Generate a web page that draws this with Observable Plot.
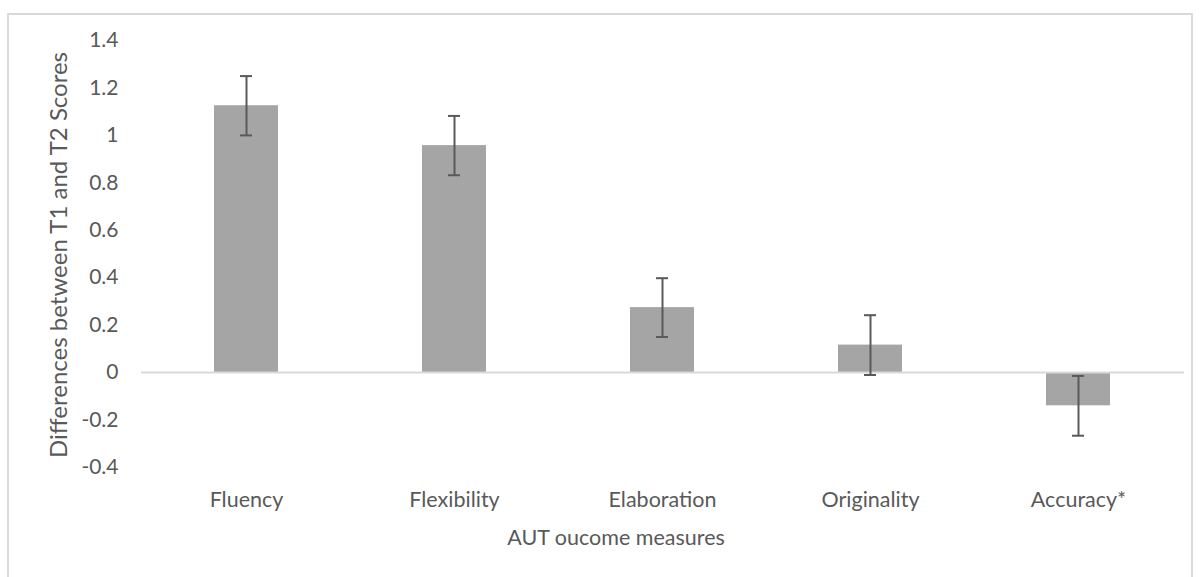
<!DOCTYPE html>
<html>
<head>
<meta charset="utf-8">
<script src="https://cdn.jsdelivr.net/npm/d3@7"></script>
<script src="https://cdn.jsdelivr.net/npm/@observablehq/plot@0.6"></script>
<style>
  html, body { margin: 0; padding: 0; background: #fff; }
  #wrap { position: relative; width: 1200px; height: 577px; overflow: hidden; }
  #border { position: absolute; left: 7px; top: 13px; width: 1186px; height: 600px; border: 2px solid #D9D9D9; box-sizing: border-box; }
  #chart { position: absolute; left: 0; top: 0; }
</style>
</head>
<body>
<div id="wrap">
  <div id="border"></div>
  <div id="chart"></div>
</div>
<script>
// Data
const categories = ["Fluency", "Flexibility", "Elaboration", "Originality", "Accuracy*"];
const means = [1.125, 0.957, 0.274, 0.116, -0.140];
const errors = [0.125, 0.125, 0.124, 0.126, 0.126];
const yTicks = [-0.4, -0.2, 0, 0.2, 0.4, 0.6, 0.8, 1, 1.2, 1.4];
const yTitle = "Differences between T1 and T2 Scores";
const xTitle = "AUT oucome measures";

const rows = categories.map((c, i) => ({
  category: c,
  mean: means[i],
  lo: means[i] - errors[i],
  hi: means[i] + errors[i]
}));

const font = "Lato, 'Open Sans', sans-serif";
const textColor = "#595959";

const chart = Plot.plot({
  width: 1200,
  height: 577,
  marginLeft: 141,
  marginRight: 16,
  marginTop: 40,
  marginBottom: 110,
  style: { fontFamily: font, fontSize: "21px", color: textColor, background: "transparent", overflow: "visible" },
  x: { domain: categories, paddingInner: 0.69, paddingOuter: 0.345, label: null },
  y: { domain: [-0.4, 1.4], label: null },
  marks: [
    Plot.axisY(yTicks, {
      tickSize: 0, tickPadding: 23, fontSize: 21, fill: textColor,
      tickFormat: d => String(+d.toFixed(1)), label: null
    }),
    Plot.axisX({ tickSize: 0, tickPadding: 24, fontSize: 21.5, fill: textColor, label: null }),
    Plot.barY(rows, { x: "category", y: "mean", fill: "#A5A5A5" }),
    Plot.ruleY([0], { stroke: "#D9D9D9", strokeWidth: 2 }),
    Plot.ruleX(rows, { x: "category", y1: "lo", y2: "hi", stroke: "#595959", strokeWidth: 2 }),
    Plot.tickY(rows, { x: "category", y: "lo", stroke: "#595959", strokeWidth: 2, insetLeft: 26, insetRight: 26 }),
    Plot.tickY(rows, { x: "category", y: "hi", stroke: "#595959", strokeWidth: 2, insetLeft: 26, insetRight: 26 }),
    Plot.text([yTitle], {
      text: d => d, frameAnchor: "left", rotate: -90, dx: -82, dy: 1,
      fontSize: 24, fill: textColor, textAnchor: "middle", lineAnchor: "middle"
    }),
    Plot.text([xTitle], {
      text: d => d, frameAnchor: "bottom", dx: -47, dy: 70.5,
      fontSize: 21.5, fill: textColor, textAnchor: "middle", lineAnchor: "middle"
    })
  ]
});

document.getElementById("chart").appendChild(chart);
</script>
</body>
</html>
